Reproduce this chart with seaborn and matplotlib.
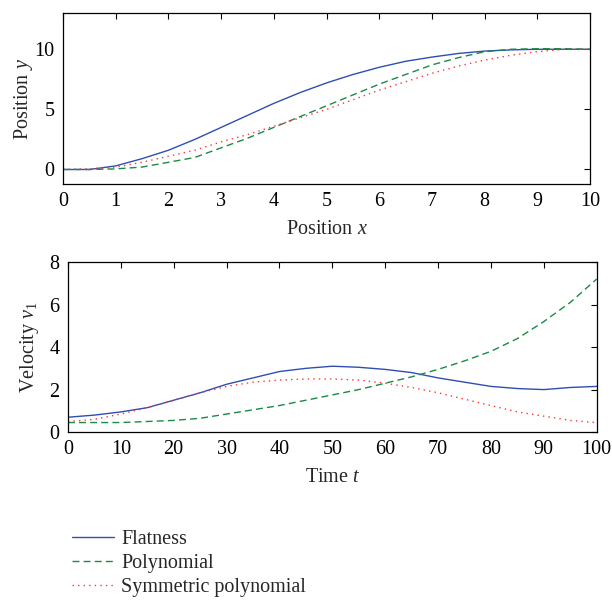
import numpy as np
import pandas as pd
import matplotlib
matplotlib.use("Agg")
import matplotlib.pyplot as plt
import seaborn as sns

sns.set_style("white")
plt.rcParams['font.family'] = ['Liberation Serif', 'DejaVu Serif']
plt.rcParams['mathtext.fontset'] = 'custom'
plt.rcParams['mathtext.it'] = 'Liberation Serif:italic'
plt.rcParams['mathtext.rm'] = 'Liberation Serif'

# Top panel: position y vs position x
pos_x = [0, 0.5, 1, 1.5, 2, 2.5, 3, 3.5, 4, 4.5, 5, 5.5, 6, 6.5, 7, 7.5, 8, 8.5, 9, 9.5, 10]
flat_y = [0, 0.0, 0.3, 0.9, 1.6, 2.5, 3.5, 4.5, 5.5, 6.4, 7.2, 7.9, 8.5, 9.0, 9.35, 9.65, 9.85, 9.95, 10.0, 10.0, 10.0]
poly_y = [0, 0.0, 0.05, 0.2, 0.6, 1.0, 1.8, 2.6, 3.5, 4.4, 5.3, 6.2, 7.1, 7.9, 8.7, 9.3, 9.8, 10.0, 10.05, 10.05, 10.0]
sym_y = [0, 0.05, 0.2, 0.6, 1.1, 1.6, 2.3, 2.9, 3.6, 4.3, 5.0, 5.8, 6.6, 7.3, 8.0, 8.6, 9.1, 9.5, 9.8, 10.0, 10.0]

# Bottom panel: velocity v1 vs time t
time_t = [0, 5, 10, 15, 20, 25, 30, 35, 40, 45, 50, 55, 60, 65, 70, 75, 80, 85, 90, 95, 100]
flat_v = [0.7, 0.8, 0.95, 1.15, 1.5, 1.85, 2.25, 2.55, 2.85, 3.0, 3.1, 3.05, 2.95, 2.8, 2.55, 2.35, 2.15, 2.05, 2.0, 2.1, 2.15]
poly_v = [0.45, 0.45, 0.45, 0.5, 0.55, 0.65, 0.85, 1.05, 1.25, 1.5, 1.75, 2.0, 2.3, 2.6, 2.95, 3.35, 3.8, 4.4, 5.2, 6.1, 7.2]
sym_v = [0.5, 0.6, 0.85, 1.15, 1.5, 1.85, 2.15, 2.35, 2.45, 2.5, 2.5, 2.45, 2.3, 2.1, 1.85, 1.55, 1.25, 0.95, 0.75, 0.55, 0.45]

names = ["Flatness", "Polynomial", "Symmetric polynomial"]
colors = ["#2f4fb0", "#1a8a45", "#ff3333"]
styles = ["-", (0, (5, 3)), (0, (1, 3))]

FS = 14.5

fig = plt.figure(figsize=(6.12, 6.01), dpi=100)
ax1 = fig.add_axes([0.103, 0.694, 0.861, 0.284])
ax2 = fig.add_axes([0.111, 0.281, 0.864, 0.283])

top = [flat_y, poly_y, sym_y]
bot = [flat_v, poly_v, sym_v]
handles = []
for i in range(3):
    sns.lineplot(x=pos_x, y=top[i], ax=ax1, color=colors[i], linewidth=1.0)
    ax1.lines[-1].set_linestyle(styles[i])
    sns.lineplot(x=time_t, y=bot[i], ax=ax2, color=colors[i], linewidth=1.0)
    ax2.lines[-1].set_linestyle(styles[i])
    handles.append(ax2.lines[-1])

ax1.set_xlim(0, 10)
ax1.set_ylim(-1.2, 13)
ax1.set_xticks(range(0, 11))
ax1.set_yticks([0, 5, 10])
ax1.set_xlabel("Position $x$", fontsize=FS, labelpad=6)
ax1.set_ylabel("Position $y$", fontsize=FS, labelpad=0)

ax2.set_xlim(0, 100)
ax2.set_ylim(0, 8)
ax2.set_xticks(range(0, 101, 10))
ax2.set_yticks([0, 2, 4, 6, 8])
ax2.set_xlabel("Time $t$", fontsize=FS, labelpad=6)
ax2.set_ylabel("Velocity $v_1$", fontsize=FS, labelpad=6)

for ax in (ax1, ax2):
    ax.tick_params(direction='in', top=True, right=True, length=4, width=0.8,
                   labelsize=FS, colors='black', pad=6)
    for s in ax.spines.values():
        s.set_color('black')
        s.set_linewidth(0.9)

fig.legend(handles, names, loc='upper left', bbox_to_anchor=(60/612, 1-518/601),
           frameon=False, fontsize=FS, handlelength=2.1, handletextpad=0.35,
           labelspacing=0.25, borderaxespad=0.2)

fig.savefig("out.png", dpi=100)
